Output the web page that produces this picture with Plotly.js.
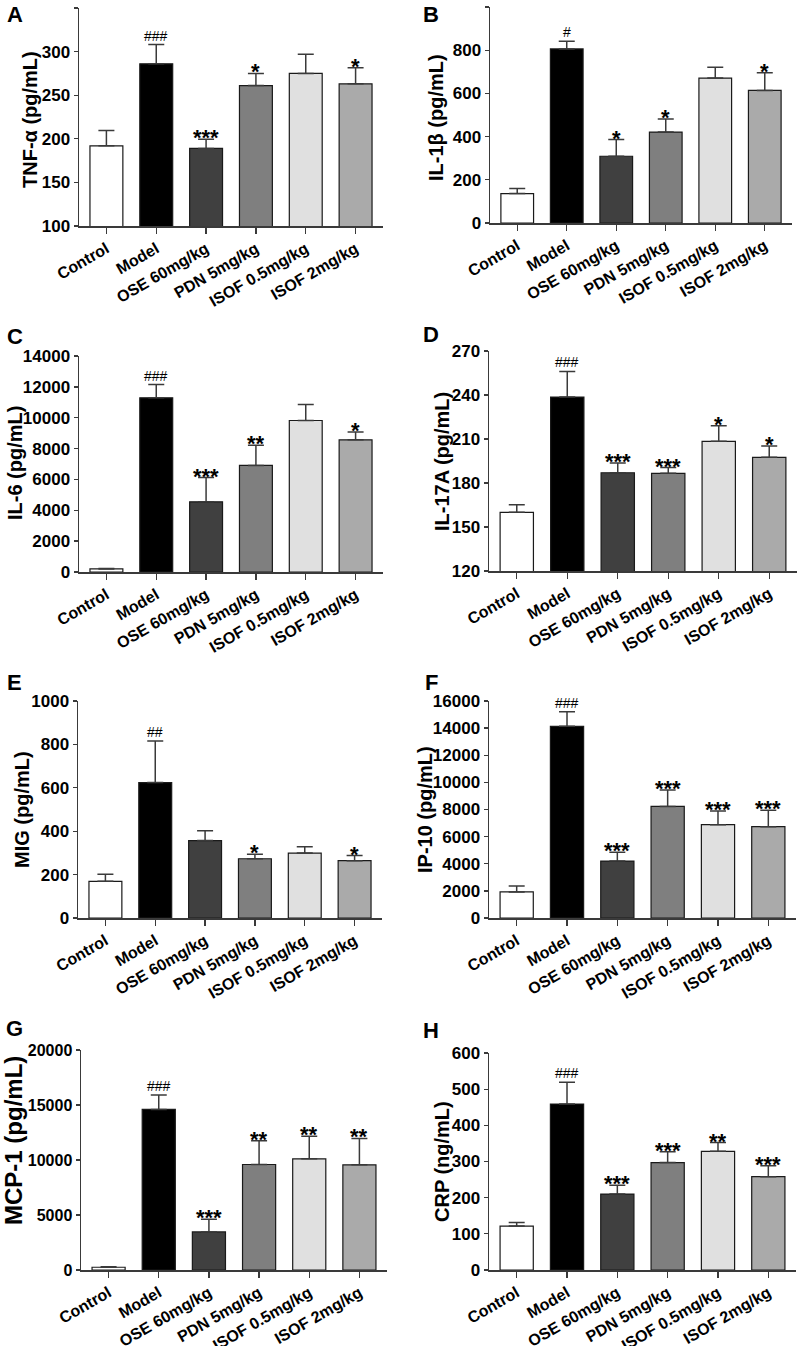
<!DOCTYPE html>
<html><head><meta charset="utf-8">
<script src="https://cdn.plot.ly/plotly-3.0.1.min.js"></script>
<style>body{margin:0;padding:0;background:#fff}#chart{width:803px;height:1346px}</style>
</head><body><div id="chart"></div>
<script>
// ---- data ----
const groups = ['Control','Model','OSE 60mg/kg','PDN 5mg/kg','ISOF 0.5mg/kg','ISOF 2mg/kg'];

const tnfMean = [192, 286, 189, 261, 275, 263];
const tnfSem  = [17.5, 22, 10.5, 14, 22, 18.5];
const tnfSig  = ['', '###', '***', '*', '', '*'];

const il1bMean = [136, 806, 309, 421, 671, 614];
const il1bSem  = [24, 35, 77, 60, 50, 82];
const il1bSig  = ['', '#', '*', '*', '', '*'];

const il6Mean = [200, 11290, 4550, 6910, 9820, 8570];
const il6Sem  = [30, 860, 1570, 1300, 1040, 500];
const il6Sig  = ['', '###', '***', '**', '', '*'];

const il17Mean = [160, 238.6, 187, 186.6, 208.4, 197.5];
const il17Sem  = [5.2, 17.5, 6.6, 3.9, 10.7, 7.7];
const il17Sig  = ['', '###', '***', '***', '*', '*'];

const migMean = [169, 624, 357, 273, 299, 264];
const migSem  = [33, 192, 45, 21, 29, 24];
const migSig  = ['', '##', '', '*', '', '*'];

const ip10Mean = [1920, 14130, 4200, 8230, 6880, 6730];
const ip10Sem  = [440, 1080, 640, 1210, 1010, 1210];
const ip10Sig  = ['', '###', '***', '***', '***', '***'];

const mcp1Mean = [250, 14600, 3460, 9590, 10110, 9560];
const mcp1Sem  = [50, 1300, 1150, 2160, 2060, 2400];
const mcp1Sig  = ['', '###', '***', '**', '**', '**'];

const crpMean = [121.5, 459, 210, 297, 328, 258];
const crpSem  = [10, 60, 24, 30, 24.5, 30];
const crpSig  = ['', '###', '***', '***', '**', '***'];

// ---- styles / layout config ----
const barColors = ['#ffffff','#000000','#404040','#7f7f7f','#e0e0e0','#aaaaaa'];
const W = 803, H = 1346;
const FONT = 'Liberation Sans, Arial, sans-serif';

const panels = [
  {letter:'A', title:'TNF-α (pg/mL)', mean:tnfMean, sem:tnfSem, sig:tnfSig, range:[100,350], dtick:50, px:[79,383], py:[8,226], lab:[15,15], tf:20, tk:17, tp:[30,120]},
  {letter:'B', title:'IL-1β (pg/mL)', mean:il1bMean, sem:il1bSem, sig:il1bSig, range:[0,1000], dtick:200, px:[490,792], py:[7,223], lab:[431,15], tf:20, tk:17, tp:[436,117]},
  {letter:'C', title:'IL-6 (pg/mL)', mean:il6Mean, sem:il6Sem, sig:il6Sig, range:[0,14000], dtick:2000, px:[79,383], py:[356,572], lab:[15,336], tf:20, tk:17, tp:[15,463]},
  {letter:'D', title:'IL-17A (pg/mL)', mean:il17Mean, sem:il17Sem, sig:il17Sig, range:[120,270], dtick:30, px:[489,797], py:[351,571], lab:[431,334], tf:20, tk:17, tp:[442,462]},
  {letter:'E', title:'MIG (pg/mL)', mean:migMean, sem:migSem, sig:migSig, range:[0,1000], dtick:200, px:[78,382], py:[701,918], lab:[15,682], tf:20, tk:17, tp:[22,810]},
  {letter:'F', title:'IP-10 (pg/mL)', mean:ip10Mean, sem:ip10Sem, sig:ip10Sig, range:[0,16000], dtick:2000, px:[489,796], py:[701,918], lab:[431,682], tf:20, tk:17, tp:[425,810]},
  {letter:'G', title:'MCP-1 (pg/mL)', mean:mcp1Mean, sem:mcp1Sem, sig:mcp1Sig, range:[0,20000], dtick:5000, px:[81,387], py:[1050,1270], lab:[15,1028], tf:24, tk:16, tp:[13,1141]},
  {letter:'H', title:'CRP (ng/mL)', mean:crpMean, sem:crpSem, sig:crpSig, range:[0,600], dtick:100, px:[489,796], py:[1053,1270], lab:[431,1030], tf:20, tk:17, tp:[442,1162]}
];

const data = [];
const layout = {
  width: W, height: H,
  margin: {l:0, r:0, t:0, b:0},
  paper_bgcolor: '#fff', plot_bgcolor: '#fff',
  showlegend: false,
  font: {family: FONT, color: '#000'},
  annotations: []
};

panels.forEach((p, i) => {
  const n = i === 0 ? '' : String(i + 1);
  const xa = 'x' + n, ya = 'y' + n;
  data.push({
    type: 'bar',
    x: groups,
    y: p.mean,
    xaxis: xa, yaxis: ya,
    width: 0.66,
    marker: {color: barColors, line: {color: '#1a1a1a', width: 1.2}},
    error_y: {type: 'data', symmetric: false, array: p.sem, arrayminus: p.mean.map(() => 0),
              color: '#3a3a3a', thickness: 1.5, width: 8},
    hoverinfo: 'none'
  });
  layout['xaxis' + n] = {
    domain: [p.px[0] / W, p.px[1] / W],
    anchor: ya,
    type: 'category',
    range: [-0.55, 5.55],
    showline: true, linecolor: '#3a3a3a', linewidth: 1.5,
    ticks: 'outside', ticklen: 6, tickwidth: 1.3, tickcolor: '#3a3a3a',
    tickangle: -30,
    tickfont: {family: FONT, size: 16, weight: 'bold', color: '#000'},
    showgrid: false, zeroline: false, fixedrange: true
  };
  layout['yaxis' + n] = {
    domain: [1 - p.py[1] / H, 1 - p.py[0] / H],
    anchor: xa,
    range: p.range, dtick: p.dtick, tick0: 0, tickformat: 'd',
    showline: true, linecolor: '#3a3a3a', linewidth: 1.5,
    ticks: 'outside', ticklen: 4, tickwidth: 1.3, tickcolor: '#3a3a3a',
    tickfont: {family: FONT, size: p.tk, weight: 'bold', color: '#000'},
    showgrid: false, zeroline: false, fixedrange: true
  };
  // y-axis title
  layout.annotations.push({
    xref: 'paper', yref: 'paper', x: p.tp[0] / W, y: 1 - p.tp[1] / H,
    text: p.title, textangle: -90, showarrow: false, xanchor: 'center', yanchor: 'middle',
    font: {family: FONT, size: p.tf, weight: 'bold', color: '#000'}
  });
  // significance marks
  groups.forEach((g, k) => {
    const s = p.sig[k];
    if (!s) return;
    const isHash = s.indexOf('#') >= 0;
    layout.annotations.push({
      xref: xa, yref: ya, x: g, y: p.mean[k] + p.sem[k],
      text: s,
      showarrow: false, yanchor: 'bottom', xanchor: 'center',
      yshift: isHash ? -1 : -13,
      font: {family: FONT, size: isHash ? 14 : 22, weight: isHash ? 'normal' : 'bold', color: '#000'}
    });
  });
  // panel letter
  layout.annotations.push({
    xref: 'paper', yref: 'paper', x: p.lab[0] / W, y: 1 - p.lab[1] / H,
    text: p.letter, showarrow: false, xanchor: 'center', yanchor: 'middle',
    font: {family: FONT, size: 22, weight: 'bold', color: '#000'}
  });
});

Plotly.newPlot('chart', data, layout, {displayModeBar: false, staticPlot: true});
</script>
</body></html>
